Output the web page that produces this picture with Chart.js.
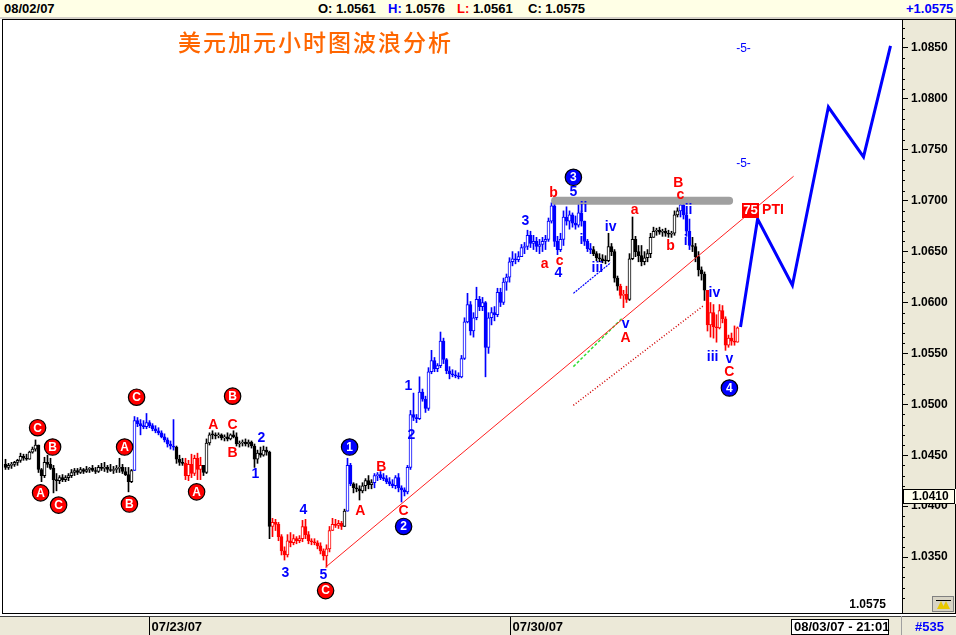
<!DOCTYPE html>
<html>
<head>
<meta charset="utf-8">
<script src="https://cdn.jsdelivr.net/npm/chart.js@4.4.1/dist/chart.umd.min.js"></script>
<style>
  html, body { margin: 0; padding: 0; background: #fff; }
  #wrap { position: relative; width: 956px; height: 635px; overflow: hidden; }
  #chart { position: absolute; left: 0; top: 0; }
  #hdr { position: absolute; left: 0; top: 0; width: 956px; height: 17px; background: #ffffe6; border-bottom: 2px solid #d4d0c8; }
  .h { position: absolute; top: 1px; font: bold 13px "Liberation Sans Narrow", "Liberation Sans", Arial, sans-serif; color: #000; white-space: nowrap; }
  #title { position: absolute; left: 178px; top: 24px; color: #ff6600; font: 500 23px "Noto Sans CJK SC", sans-serif; letter-spacing: 2px; }
</style>
</head>
<body>
<div id="wrap">
  <canvas id="chart" width="956" height="635"></canvas>
  <div id="hdr">
    <span class="h" style="left:4px">08/02/07</span>
    <span class="h" style="left:318px">O: 1.0561</span>
    <span class="h" style="left:388px"><span style="color:#0000ff">H:</span> 1.0576</span>
    <span class="h" style="left:457px"><span style="color:#ff0000">L:</span> 1.0561</span>
    <span class="h" style="left:528px">C: 1.0575</span>
    <span class="h" style="left:906px;color:#0000ff">+1.0575</span>
  </div>
  <div id="title">美元加元小时图波浪分析</div>
</div>
<script>
// ── DATA (hourly USD/CAD bars, index 0 = first bar on the left) ────────────

const opens = [
  1.0441,1.0438,1.0440,1.0441,1.0443,1.0445,1.0449,1.0447,1.0446,1.0453,
  1.0456,1.0460,1.0436,1.0430,1.0443,1.0441,1.0437,1.0426,1.0425,1.0428,
  1.0426,1.0428,1.0430,1.0433,1.0435,1.0433,1.0436,1.0434,1.0436,1.0437,
  1.0435,1.0434,1.0438,1.0437,1.0438,1.0436,1.0435,1.0436,1.0437,1.0438,
  1.0434,1.0431,1.0424,1.0435,1.0484,1.0481,1.0479,1.0478,1.0482,1.0479,
  1.0476,1.0474,1.0472,1.0468,1.0465,1.0461,1.0459,1.0458,1.0446,1.0443,
  1.0442,1.0430,1.0441,1.0432,1.0447,1.0436,1.0440,1.0433,1.0462,1.0470,
  1.0470,1.0469,1.0470,1.0467,1.0468,1.0466,1.0470,1.0468,1.0461,1.0462,
  1.0463,1.0461,1.0463,1.0459,1.0446,1.0452,1.0450,1.0455,1.0453,1.0380,
  1.0384,1.0382,1.0370,1.0356,1.0352,1.0366,1.0364,1.0368,1.0366,1.0368,
  1.0380,1.0372,1.0366,1.0365,1.0364,1.0361,1.0356,1.0351,1.0358,1.0376,
  1.0382,1.0381,1.0383,1.0380,1.0395,1.0440,1.0422,1.0418,1.0417,1.0415,
  1.0420,1.0425,1.0421,1.0423,1.0430,1.0431,1.0428,1.0427,1.0424,1.0422,
  1.0420,1.0428,1.0418,1.0416,1.0414,1.0438,1.0490,1.0487,1.0486,1.0512,
  1.0505,1.0496,1.0532,1.0543,1.0535,1.0538,1.0562,1.0544,1.0533,1.0530,
  1.0529,1.0528,1.0527,1.0545,1.0581,1.0598,1.0572,1.0585,1.0603,1.0596,
  1.0600,1.0556,1.0585,1.0590,1.0588,1.0610,1.0600,1.0620,1.0625,1.0640,
  1.0643,1.0642,1.0645,1.0654,1.0655,1.0666,1.0658,1.0660,1.0655,1.0657,
  1.0660,1.0662,1.0680,1.0695,1.0660,1.0652,1.0662,1.0684,1.0680,1.0686,
  1.0678,1.0676,1.0688,1.0680,1.0660,1.0653,1.0652,1.0648,1.0644,1.0643,
  1.0641,1.0641,1.0655,1.0650,1.0624,1.0616,1.0607,1.0608,1.0603,1.0643,
  1.0662,1.0650,1.0646,1.0640,1.0644,1.0648,1.0664,1.0670,1.0671,1.0669,
  1.0670,1.0668,1.0667,1.0668,1.0686,1.0690,1.0696,1.0686,1.0670,1.0656,
  1.0655,1.0645,1.0632,1.0628,1.0612,1.0578,1.0590,1.0576,1.0575,1.0592,
  1.0584,1.0558,1.0565,1.0562,1.0561
];

const highs = [
  1.0446,1.0442,1.0443,1.0444,1.0446,1.0452,1.0451,1.0451,1.0454,1.0458,
  1.0465,1.0460,1.0437,1.0448,1.0450,1.0447,1.0440,1.0432,1.0430,1.0431,
  1.0430,1.0432,1.0436,1.0437,1.0437,1.0438,1.0437,1.0439,1.0438,1.0440,
  1.0438,1.0440,1.0442,1.0443,1.0440,1.0441,1.0439,1.0440,1.0447,1.0441,
  1.0438,1.0438,1.0436,1.0488,1.0487,1.0485,1.0484,1.0491,1.0484,1.0481,
  1.0479,1.0477,1.0474,1.0471,1.0467,1.0464,1.0485,1.0459,1.0450,1.0447,
  1.0447,1.0445,1.0451,1.0450,1.0452,1.0448,1.0440,1.0466,1.0472,1.0474,
  1.0472,1.0472,1.0471,1.0470,1.0472,1.0471,1.0474,1.0472,1.0464,1.0465,
  1.0466,1.0465,1.0464,1.0461,1.0455,1.0458,1.0459,1.0458,1.0454,1.0388,
  1.0387,1.0384,1.0372,1.0360,1.0372,1.0374,1.0372,1.0370,1.0371,1.0386,
  1.0387,1.0375,1.0368,1.0368,1.0366,1.0364,1.0358,1.0362,1.0380,1.0388,
  1.0387,1.0386,1.0385,1.0397,1.0447,1.0442,1.0423,1.0422,1.0420,1.0423,
  1.0427,1.0430,1.0426,1.0432,1.0433,1.0434,1.0432,1.0430,1.0428,1.0426,
  1.0430,1.0432,1.0420,1.0418,1.0440,1.0494,1.0511,1.0490,1.0527,1.0515,
  1.0508,1.0536,1.0553,1.0546,1.0540,1.0571,1.0565,1.0545,1.0537,1.0534,
  1.0533,1.0531,1.0548,1.0585,1.0609,1.0601,1.0590,1.0615,1.0606,1.0605,
  1.0601,1.0590,1.0595,1.0596,1.0614,1.0614,1.0624,1.0628,1.0644,1.0650,
  1.0648,1.0650,1.0657,1.0659,1.0671,1.0670,1.0666,1.0664,1.0662,1.0664,
  1.0666,1.0683,1.0698,1.0697,1.0665,1.0668,1.0690,1.0694,1.0690,1.0688,
  1.0685,1.0699,1.0690,1.0680,1.0662,1.0658,1.0655,1.0650,1.0648,1.0647,
  1.0646,1.0668,1.0658,1.0652,1.0626,1.0618,1.0612,1.0616,1.0648,1.0684,
  1.0665,1.0656,1.0656,1.0650,1.0652,1.0668,1.0674,1.0673,1.0674,1.0672,
  1.0673,1.0671,1.0670,1.0690,1.0693,1.0700,1.0698,1.0688,1.0682,1.0664,
  1.0658,1.0650,1.0635,1.0630,1.0612,1.0600,1.0598,1.0588,1.0598,1.0597,
  1.0586,1.0568,1.0570,1.0577,1.0576
];

const lows = [
  1.0436,1.0436,1.0437,1.0439,1.0440,1.0443,1.0445,1.0445,1.0446,1.0452,
  1.0454,1.0433,1.0424,1.0428,1.0438,1.0436,1.0413,1.0415,1.0422,1.0424,
  1.0424,1.0425,1.0428,1.0430,1.0431,1.0432,1.0432,1.0433,1.0433,1.0434,
  1.0432,1.0433,1.0435,1.0434,1.0433,1.0434,1.0432,1.0433,1.0433,1.0432,
  1.0430,1.0414,1.0423,1.0435,1.0478,1.0470,1.0476,1.0476,1.0477,1.0474,
  1.0472,1.0470,1.0467,1.0463,1.0458,1.0456,1.0455,1.0442,1.0440,1.0440,
  1.0426,1.0425,1.0428,1.0430,1.0426,1.0426,1.0430,1.0432,1.0460,1.0466,
  1.0466,1.0467,1.0465,1.0464,1.0464,1.0465,1.0467,1.0459,1.0458,1.0459,
  1.0459,1.0458,1.0457,1.0438,1.0442,1.0448,1.0449,1.0450,1.0368,1.0370,
  1.0376,1.0366,1.0352,1.0347,1.0350,1.0360,1.0362,1.0363,1.0364,1.0365,
  1.0368,1.0363,1.0362,1.0362,1.0358,1.0353,1.0347,1.0340,1.0355,1.0376,
  1.0379,1.0378,1.0377,1.0380,1.0395,1.0420,1.0413,1.0414,1.0406,1.0413,
  1.0415,1.0417,1.0417,1.0418,1.0425,1.0426,1.0425,1.0422,1.0420,1.0418,
  1.0417,1.0414,1.0404,1.0410,1.0412,1.0436,1.0484,1.0482,1.0485,1.0503,
  1.0492,1.0494,1.0530,1.0532,1.0532,1.0536,1.0540,1.0530,1.0525,1.0527,
  1.0526,1.0525,1.0526,1.0544,1.0580,1.0568,1.0566,1.0583,1.0592,1.0592,
  1.0527,1.0550,1.0578,1.0582,1.0586,1.0596,1.0598,1.0612,1.0620,1.0636,
  1.0638,1.0640,1.0645,1.0648,1.0652,1.0654,1.0652,1.0650,1.0648,1.0650,
  1.0652,1.0660,1.0678,1.0655,1.0647,1.0650,1.0656,1.0676,1.0672,1.0674,
  1.0672,1.0674,1.0675,1.0656,1.0650,1.0648,1.0646,1.0641,1.0640,1.0639,
  1.0638,1.0640,1.0646,1.0620,1.0612,1.0604,1.0595,1.0600,1.0602,1.0642,
  1.0645,1.0640,1.0636,1.0637,1.0640,1.0644,1.0664,1.0666,1.0667,1.0665,
  1.0665,1.0664,1.0664,1.0666,1.0684,1.0684,1.0682,1.0665,1.0652,1.0650,
  1.0640,1.0626,1.0622,1.0602,1.0572,1.0566,1.0565,1.0561,1.0574,1.0580,
  1.0553,1.0556,1.0558,1.0558,1.0561
];

const closes = [
  1.0438,1.0440,1.0441,1.0443,1.0445,1.0449,1.0447,1.0446,1.0453,1.0456,
  1.0460,1.0436,1.0430,1.0443,1.0441,1.0437,1.0426,1.0425,1.0428,1.0426,
  1.0428,1.0430,1.0433,1.0435,1.0433,1.0436,1.0434,1.0436,1.0437,1.0435,
  1.0434,1.0438,1.0437,1.0438,1.0436,1.0435,1.0436,1.0437,1.0438,1.0434,
  1.0431,1.0424,1.0435,1.0484,1.0481,1.0479,1.0478,1.0482,1.0479,1.0476,
  1.0474,1.0472,1.0468,1.0465,1.0461,1.0459,1.0458,1.0446,1.0443,1.0442,
  1.0430,1.0441,1.0432,1.0447,1.0436,1.0440,1.0433,1.0462,1.0470,1.0470,
  1.0469,1.0470,1.0467,1.0468,1.0466,1.0470,1.0468,1.0461,1.0462,1.0463,
  1.0461,1.0463,1.0459,1.0446,1.0452,1.0450,1.0455,1.0453,1.0380,1.0384,
  1.0382,1.0370,1.0356,1.0352,1.0366,1.0364,1.0368,1.0366,1.0368,1.0380,
  1.0372,1.0366,1.0365,1.0364,1.0361,1.0356,1.0351,1.0358,1.0376,1.0382,
  1.0381,1.0383,1.0380,1.0395,1.0440,1.0422,1.0418,1.0417,1.0415,1.0420,
  1.0425,1.0421,1.0423,1.0430,1.0431,1.0428,1.0427,1.0424,1.0422,1.0420,
  1.0428,1.0418,1.0416,1.0414,1.0438,1.0490,1.0487,1.0486,1.0512,1.0505,
  1.0496,1.0532,1.0543,1.0535,1.0538,1.0562,1.0544,1.0533,1.0530,1.0529,
  1.0528,1.0527,1.0545,1.0581,1.0598,1.0572,1.0585,1.0603,1.0596,1.0600,
  1.0556,1.0585,1.0590,1.0588,1.0610,1.0600,1.0620,1.0625,1.0640,1.0643,
  1.0642,1.0645,1.0654,1.0655,1.0666,1.0658,1.0660,1.0655,1.0657,1.0660,
  1.0662,1.0680,1.0695,1.0660,1.0652,1.0662,1.0684,1.0680,1.0686,1.0678,
  1.0676,1.0688,1.0680,1.0660,1.0653,1.0652,1.0648,1.0644,1.0643,1.0641,
  1.0641,1.0655,1.0650,1.0624,1.0616,1.0607,1.0608,1.0603,1.0643,1.0662,
  1.0650,1.0646,1.0640,1.0644,1.0648,1.0664,1.0670,1.0671,1.0669,1.0670,
  1.0668,1.0667,1.0668,1.0686,1.0690,1.0696,1.0686,1.0670,1.0656,1.0655,
  1.0645,1.0632,1.0628,1.0612,1.0578,1.0590,1.0576,1.0575,1.0592,1.0584,
  1.0558,1.0565,1.0562,1.0561,1.0575
];

// bar index where each wave colour starts (k = black, b = blue, r = red)
const waveSegments = [
  [0,'k'],[43,'b'],[57,'k'],[60,'r'],[66,'k'],[89,'r'],[113,'k'],[114,'b'],
  [116,'k'],[123,'b'],[196,'k'],[205,'r'],[208,'k'],[225,'b'],[229,'k'],[234,'r']
];

// date labels on the time bar
const dateTicks  = [49, 169];
const dateLabels = ['07/23/07', '07/30/07'];

// price axis
const yTicks = [1.0350,1.0400,1.0450,1.0500,1.0550,1.0600,1.0650,1.0700,1.0750,1.0800,1.0850];
const yMinor = [];
for (let v = 1030; v <= 1087; v++) if (v % 5 !== 0) yMinor.push(v / 1000);

// drawn lines: [bar index, price]
const projection = [[245,1.0576],[250.7,1.0682],[262.3,1.0617],[274.3,1.0792],[286,1.0743],[295,1.0852]];
const trendLine   = [[106.7,1.0340],[262.7,1.0724]];
const channelLine = [[189.3,1.0499],[232.7,1.0597]];
const blueDotLine = [[189.3,1.0609],[201.7,1.0639]];
const greenLine   = [[189.3,1.0537],[205.7,1.0585]];
const resistance  = [[183.2,1.0700],[241.2,1.0700]];

// wave labels: [text, bar index, price]
const redText = [
  ['A',69.3,1.0480],['C',75.7,1.0480],['B',75.7,1.0452],
  ['A',118.3,1.0395],['B',125.3,1.0438],['C',132.7,1.0395],
  ['a',179.7,1.0638],['c',184.7,1.0641],['b',182.7,1.0707],
  ['a',209.7,1.0691],['A',206.7,1.0565],['b',221.7,1.0655],
  ['B',224.3,1.0717],['c',225,1.0705],['C',241.3,1.0532]
];
const blueText = [
  ['2',85.3,1.0467],['1',83.3,1.0431],['4',99.3,1.0396],['3',93.3,1.0334],['5',106,1.0332],
  ['1',134.3,1.0518],['2',135.3,1.0470],['3',173.3,1.0680],['4',184.3,1.0629],
  ['5',189.3,1.0708],['ii',192.7,1.0693],['i',192,1.0661],['iv',201.7,1.0674],['iii',197.3,1.0634],
  ['v',206.7,1.0579],['ii',227.7,1.0691],['i',226.7,1.0660],['iv',236.3,1.0609],
  ['iii',235.7,1.0546],['v',241.3,1.0544]
];
const redCircles = [
  ['C',10.7,1.0477],['B',15.7,1.0458],['A',11.7,1.0413],['C',17.7,1.0401],
  ['A',39.7,1.0458],['B',41.3,1.0402],['C',43.7,1.0507],['A',63.7,1.0414],
  ['B',75.7,1.0508],['C',106.7,1.0317]
];
const blueCircles = [['1',114.7,1.0458],['2',132.7,1.0380],['3',189.3,1.0723],['4',241.3,1.0516]];
const fiveMarks = [[246,1.0849],[246,1.0736]];
const ptiMark = ['75', 248.2, 1.0691];
const lastClose = '1.0575';
const cursorPrice = 1.0410;

// ── STYLE ─────────────────────────────────────────────────────────────────────

const COL = { k: '#000000', b: '#0000ff', r: '#ff0000' };
const BLUE = '#0000ff', RED = '#ff0000';
const FONT = '"Liberation Sans", Arial, sans-serif';
const NARROW = '"Liberation Sans Narrow", "Liberation Sans", Arial, sans-serif';

function barColor(i) {
  let c = 'k';
  waveSegments.forEach(([s, k]) => { if (i >= s) c = k; });
  return COL[c];
}
const pts = arr => arr.map(([x, y]) => ({ x, y }));

// ── CHART ─────────────────────────────────────────────────────────────────────

const decor = {
  id: 'decor',
  beforeDraw(chart) {
    const { ctx, chartArea: a } = chart;
    ctx.save();
    ctx.fillStyle = '#ffffff';
    ctx.fillRect(0, 0, 956, 635);
    ctx.fillStyle = '#ece9d8';
    ctx.fillRect(a.right, a.top, 956 - a.right, a.bottom - a.top);
    ctx.restore();
  },
  afterDatasetsDraw(chart) {
    const { ctx, scales: { x, y } } = chart;
    ctx.save();
    ctx.textAlign = 'center';
    ctx.textBaseline = 'middle';
    ctx.font = 'bold 14px ' + FONT;
    ctx.fillStyle = RED;
    redText.forEach(([t, i, p]) => ctx.fillText(t, x.getPixelForValue(i), y.getPixelForValue(p)));
    ctx.fillStyle = BLUE;
    blueText.forEach(([t, i, p]) => ctx.fillText(t, x.getPixelForValue(i), y.getPixelForValue(p)));

    const circle = (t, i, p, fill) => {
      const cx = x.getPixelForValue(i), cy = y.getPixelForValue(p);
      ctx.beginPath();
      ctx.arc(cx, cy, 8.2, 0, Math.PI * 2);
      ctx.fillStyle = fill;
      ctx.fill();
      ctx.lineWidth = 1.2;
      ctx.strokeStyle = '#000';
      ctx.stroke();
      ctx.fillStyle = '#fff';
      ctx.font = 'bold 12px ' + FONT;
      ctx.fillText(t, cx, cy + 0.5);
    };
    redCircles.forEach(([t, i, p]) => circle(t, i, p, RED));
    blueCircles.forEach(([t, i, p]) => circle(t, i, p, BLUE));

    ctx.font = '12px ' + FONT;
    ctx.fillStyle = BLUE;
    fiveMarks.forEach(([i, p]) => ctx.fillText('-5-', x.getPixelForValue(i), y.getPixelForValue(p)));

    const bx = x.getPixelForValue(ptiMark[1]), by = y.getPixelForValue(ptiMark[2]);
    ctx.fillStyle = RED;
    ctx.fillRect(Math.round(bx) - 8, Math.round(by) - 7, 17, 15);
    ctx.fillStyle = '#fff';
    ctx.font = 'bold 13px ' + FONT;
    ctx.fillText(ptiMark[0], bx + 0.5, by + 0.5);
    ctx.fillStyle = RED;
    ctx.font = 'bold 14px ' + FONT;
    ctx.textAlign = 'left';
    ctx.fillText('PTI', bx + 12, by + 0.5);
    ctx.restore();
  },
  afterDraw(chart) {
    const { ctx, chartArea: a, scales: { x, y } } = chart;
    ctx.save();
    // frame
    ctx.strokeStyle = '#000';
    ctx.lineWidth = 1;
    ctx.strokeRect(2.5, a.top - 0.5, 953, a.bottom - a.top + 1);
    ctx.beginPath();
    ctx.moveTo(a.right + 0.5, a.top);
    ctx.lineTo(a.right + 0.5, a.bottom);
    ctx.stroke();
    // minor ticks
    yMinor.forEach(v => {
      const py = Math.round(y.getPixelForValue(v)) + 0.5;
      if (py < a.top || py > a.bottom) return;
      ctx.beginPath();
      ctx.moveTo(a.right, py);
      ctx.lineTo(a.right + 3, py);
      ctx.stroke();
    });
    // cursor price box
    const cy = Math.round(y.getPixelForValue(cursorPrice));
    ctx.fillStyle = '#ffffee';
    ctx.fillRect(a.right + 1, cy - 7, 53, 15);
    ctx.strokeRect(a.right + 1.5, cy - 6.5, 51, 14);
    ctx.fillStyle = '#000';
    ctx.font = 'bold 12px ' + FONT;
    ctx.textAlign = 'left';
    ctx.textBaseline = 'middle';
    ctx.fillText(cursorPrice.toFixed(4), a.right + 10, cy + 1);
    // last close text
    ctx.textAlign = 'right';
    ctx.fillText(lastClose, 886, a.bottom - 8);
    // small button in axis corner
    ctx.fillStyle = '#d8d4c4';
    ctx.fillRect(932, a.bottom - 17, 22, 16);
    ctx.strokeStyle = '#808080';
    ctx.strokeRect(932.5, a.bottom - 16.5, 21, 15);
    ctx.fillStyle = '#e8c800';
    ctx.beginPath();
    ctx.moveTo(937, a.bottom - 4); ctx.lineTo(941, a.bottom - 12); ctx.lineTo(945, a.bottom - 4); ctx.fill();
    ctx.beginPath();
    ctx.moveTo(942, a.bottom - 4); ctx.lineTo(946, a.bottom - 12); ctx.lineTo(950, a.bottom - 4); ctx.fill();
    ctx.strokeStyle = '#000';
    ctx.beginPath();
    ctx.moveTo(936, a.bottom - 12.5); ctx.lineTo(951, a.bottom - 12.5); ctx.stroke();
    // footer time bar
    const fy = 616;
    ctx.fillStyle = '#ece9d8';
    ctx.fillRect(0, fy, 956, 635 - fy);
    ctx.strokeStyle = '#404040';
    ctx.beginPath();
    ctx.moveTo(0, fy + 0.5); ctx.lineTo(956, fy + 0.5); ctx.stroke();
    ctx.fillStyle = '#000';
    ctx.font = 'bold 13px ' + NARROW;
    ctx.textAlign = 'left';
    dateTicks.forEach((d, k) => {
      const px = Math.round(x.getPixelForValue(d)) - 2.5;
      ctx.strokeStyle = '#000';
      ctx.beginPath();
      ctx.moveTo(px, fy + 1); ctx.lineTo(px, 635); ctx.stroke();
      ctx.fillText(dateLabels[k], px + 2, fy + 11);
    });
    ctx.fillStyle = '#fff';
    ctx.fillRect(791, fy + 3, 98, 16);
    ctx.strokeRect(791.5, fy + 3.5, 97, 15);
    ctx.fillStyle = '#000';
    ctx.fillText('08/03/07 - 21:01', 794, fy + 11);
    ctx.strokeStyle = '#a0a0a0';
    ctx.beginPath();
    ctx.moveTo(901.5, fy); ctx.lineTo(901.5, 635); ctx.stroke();
    ctx.fillStyle = BLUE;
    ctx.fillText('#535', 915, fy + 11);
    ctx.restore();
  }
};

const idx = closes.map((_, i) => i);

new Chart(document.getElementById('chart'), {
  type: 'bar',
  data: {
    datasets: [
      { type: 'line', label: 'projection', data: pts(projection), borderColor: BLUE, borderWidth: 3, pointRadius: 0, order: 1 },
      { type: 'line', label: 'resistance', data: pts(resistance), borderColor: '#a0a0a0', borderWidth: 8, borderCapStyle: 'round', pointRadius: 0, order: 1 },
      { type: 'line', label: 'trend', data: pts(trendLine), borderColor: '#ff2020', borderWidth: 1, pointRadius: 0, order: 2 },
      { type: 'line', label: 'channel', data: pts(channelLine), borderColor: '#d00000', borderWidth: 1.5, borderDash: [1, 2], pointRadius: 0, order: 2 },
      { type: 'line', label: 'iii-v', data: pts(blueDotLine), borderColor: BLUE, borderWidth: 1.2, borderDash: [2, 1], pointRadius: 0, order: 2 },
      { type: 'line', label: 'green', data: pts(greenLine), borderColor: '#33dd33', borderWidth: 1.5, borderDash: [3, 2], pointRadius: 0, order: 2 },
      {
        label: 'bodies',
        data: idx.map(i => ({ x: i, y: [opens[i], closes[i]] })),
        backgroundColor: idx.map(i => closes[i] > opens[i] ? '#ffffff' : barColor(i)),
        borderColor: idx.map(barColor),
        borderWidth: 1, borderSkipped: false, barThickness: 3, minBarLength: 1, grouped: false, order: 4
      },
      {
        label: 'wicks',
        data: idx.map(i => ({ x: i, y: [lows[i], highs[i]] })),
        backgroundColor: idx.map(barColor),
        borderWidth: 0, barThickness: 1, minBarLength: 1, grouped: false, order: 5
      }
    ]
  },
  options: {
    responsive: false,
    animation: false,
    events: [],
    layout: { padding: { left: 3, top: 20, right: 0, bottom: 22 } },
    plugins: { legend: { display: false }, tooltip: { enabled: false } },
    scales: {
      x: { type: 'linear', display: false, offset: false, min: -0.8333, max: 298.8333, grid: { offset: false } },
      y: {
        type: 'linear', position: 'right', min: 1.0295, max: 1.08775,
        afterBuildTicks: s => { s.ticks = yTicks.map(v => ({ value: v })); },
        afterFit: s => { s.width = 54; },
        grid: { drawOnChartArea: false, tickLength: 6, tickColor: '#000' },
        border: { display: true, color: '#000' },
        ticks: { color: '#000', padding: 3, font: { family: FONT, weight: 'bold', size: 12 }, callback: v => v.toFixed(4) }
      }
    }
  },
  plugins: [decor]
});
</script>
</body>
</html>
